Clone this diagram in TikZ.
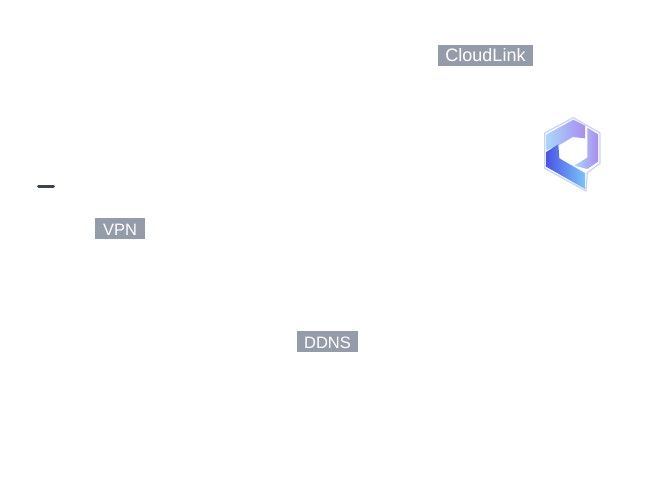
\documentclass[tikz,border=0pt]{standalone}
\usepackage{fontspec}
\setmainfont{Liberation Sans}
\definecolor{tagfill}{HTML}{959CA9}
\definecolor{dashcol}{HTML}{3C4250}
\definecolor{logoedge}{HTML}{C9D2FB}
\definecolor{logopurple}{HTML}{A98DF0}
\definecolor{logosky}{HTML}{A9D6FB}
\definecolor{logoblue}{HTML}{4A56E8}
\definecolor{logotip}{HTML}{7CC4FA}
\begin{document}
\begin{tikzpicture}[x=1pt, y=-1pt,
	tag/.style={fill=tagfill, text=white, inner sep=0pt, font=\fontsize{#1}{18}\selectfont, minimum height=21pt, text height=13pt, text depth=0pt},
	band/.style={line join=round}]
		\useasboundingbox (0,0) rectangle (650,500);
		\node[tag=18, minimum width=95pt](cloudlink) at (485.5,55.5) {CloudLink};
		\node[tag=16.5, minimum width=50pt](vpn) at (120,228.5) {VPN};
		\node[tag=16.5, minimum width=61pt](ddns) at (327.5,341.5) {DDNS};
		\draw[dashcol, line width=3pt, line cap=round] (38.5,186) -- (53.5,186);
		%logo, traced in thirds of a pixel
		\begin{scope}[shift={(530,105)}, scale=1/3]
			\draw[logoedge, line width=1.2pt, fill=white, line join=round] (130,38) -- (210,84) -- (210,175) -- (172,203) -- (168,258) -- (44,190) -- (44,84) -- cycle;
			\shade[band, shading angle=70, left color=logosky, right color=logopurple] (50,88) -- (130,44) -- (165,62) -- (165,100) -- (128,96) -- (88,120) -- (50,135) -- cycle;
			\shade[band, shading angle=205, left color=logosky, right color=logopurple] (172,68) -- (204,88) -- (204,170) -- (172,192) -- (133,182) -- (172,158) -- (172,124) -- cycle;
			\shade[band, shading angle=120, left color=logoblue, right color=logotip] (50,140) -- (85,118) -- (88,160) -- (165,204) -- (165,252) -- (50,186) -- cycle;
		\end{scope}
\end{tikzpicture}
\end{document}
